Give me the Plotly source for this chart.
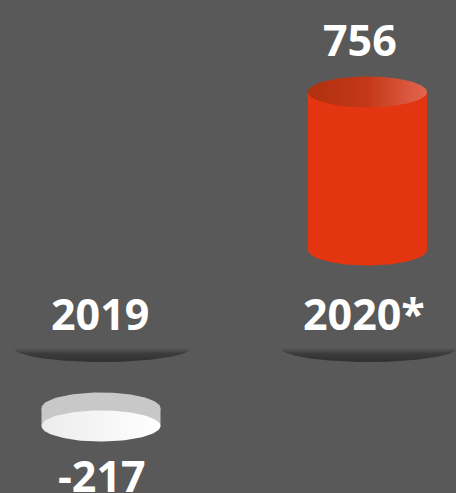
import numpy as np
import plotly.graph_objects as go

# ---- data ----
categories = ["2019", "2020*"]
values = [-217, 756]
value_labels = ["-217", "756"]

# ---- style ----
BG = "#595959"
POS_BODY = "#E3350F"
POS_TOP = [[0, "#B0300E"], [0.5, "#C43818"], [1, "#E3664F"]]
NEG_SIDE = "#C8C8C8"
NEG_FACE = [[0, "#ECECEC"], [1, "#FFFFFF"]]
SHADOW = [[0, "#303030"], [0.6, "#3C3C3C"], [1, BG]]
FONT = dict(family="Open Sans", size=43, color="white", weight=700)

W, H = 456, 493
xpos = list(range(len(categories)))
bar_w = 0.4465
hw = bar_w / 2

# y axis (positive part): 0 -> 250px, 756 -> 92px
s1 = 158 / 756
yr1 = [-(H - 250) / s1, 250 / s1]
# y2 axis (negative part)
s2 = 18 / 217
yr2 = [-(H - 408) / s2, 408 / s2]


def ellipse(xc, yc, a, b, n=120, t0=0, t1=2 * np.pi):
    t = np.linspace(t0, t1, n)
    return xc + a * np.cos(t), yc + b * np.sin(t)


fig = go.Figure()

for i, (c, v) in enumerate(zip(categories, values)):
    x = xpos[i]
    if v >= 0:
        yax, s, side = "y", s1, POS_BODY
    else:
        yax, s, side = "y2", s2, NEG_SIDE
    b = 15.5 / s
    # body
    fig.add_trace(go.Bar(x=[x], y=[v], base=0, width=bar_w, yaxis=yax,
                         marker=dict(color=side, line=dict(width=0)),
                         hoverinfo="skip", showlegend=False))
    ex, ey = ellipse(x, 0, hw, b)
    fig.add_trace(go.Scatter(x=ex, y=ey, yaxis=yax, mode="lines", fill="toself",
                             fillcolor=side, line=dict(width=0),
                             hoverinfo="skip", showlegend=False))
    ex, ey = ellipse(x, v, hw, b)
    fig.add_trace(go.Scatter(x=ex, y=ey, yaxis=yax, mode="lines", fill="toself",
                             fillgradient=dict(type="horizontal",
                                               colorscale=POS_TOP if v >= 0 else NEG_FACE),
                             line=dict(width=0), hoverinfo="skip", showlegend=False))

# shadows under category labels (decorative, on y axis)
sh_top = (250 - 348) / s1
sh_b = 14 / s1
sh_a = 0.332
for x in xpos:
    ex, ey = ellipse(x + 0.005, sh_top, sh_a, sh_b, t0=np.pi, t1=2 * np.pi)
    fig.add_trace(go.Scatter(x=ex, y=ey, mode="lines", fill="toself",
                             fillgradient=dict(type="vertical", colorscale=SHADOW,
                                               start=sh_top - sh_b, stop=sh_top),
                             line=dict(width=0), hoverinfo="skip", showlegend=False))

annotations = []
for i, (c, v, lab) in enumerate(zip(categories, values, value_labels)):
    x = xpos[i]
    if v >= 0:
        annotations.append(dict(x=x, y=v, xref="x", yref="y", text=lab, showarrow=False,
                                yanchor="middle", yshift=53, xshift=-8, font=FONT))
    else:
        annotations.append(dict(x=x, y=v, xref="x", yref="y2", text=lab, showarrow=False,
                                yanchor="middle", yshift=-49, xshift=1, font=FONT))
    annotations.append(dict(x=x, y=1 - 313 / H, xref="x", yref="paper", text=c,
                            showarrow=False, yanchor="middle",
                            xshift=-1 if i == 0 else -4, font=FONT))

fig.update_layout(
    width=W, height=H,
    margin=dict(l=0, r=0, t=0, b=0),
    paper_bgcolor=BG, plot_bgcolor=BG,
    barmode="overlay",
    xaxis=dict(range=[-101 / 266.5, 1 + (W - 367.5) / 266.5], visible=False, fixedrange=True),
    yaxis=dict(range=yr1, visible=False, fixedrange=True),
    yaxis2=dict(range=yr2, visible=False, overlaying="y", fixedrange=True),
    annotations=annotations,
    showlegend=False,
)

fig.write_html("out.html", config={"displayModeBar": False},
               post_script="document.body.style.margin='0';document.body.style.overflow='hidden';")
